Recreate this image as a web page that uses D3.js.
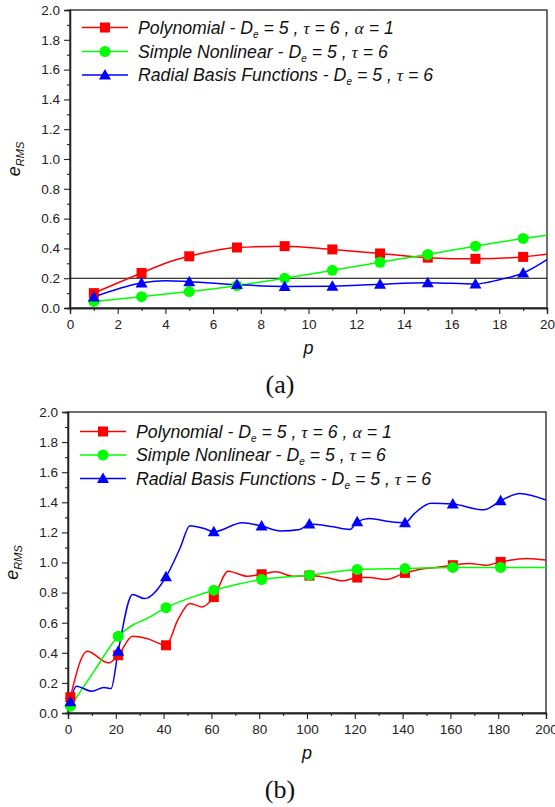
<!DOCTYPE html>
<html><head><meta charset="utf-8">
<script src="https://cdn.jsdelivr.net/npm/d3@7"></script>
<style>
body{margin:0;background:#fff;}
svg{display:block;}
</style></head>
<body>
<svg id="chart" width="555" height="807"></svg>
<script>
// ---------- DATA ----------
// Panel (a): p = 1..20
const aMarkerP = [1,3,5,7,9,11,13,15,17,19];
const aPolyP   = [1,3,4,5,7,9,11,13,15,17,19,20];
const aPolyV   = [0.10,0.235,0.30,0.347,0.406,0.415,0.393,0.366,0.338,0.330,0.343,0.360];
const aNonlP   = [1,3,5,7,9,11,13,15,17,19,20];
const aNonlV   = [0.044,0.076,0.110,0.150,0.200,0.253,0.307,0.359,0.415,0.467,0.489];
const aRbfP    = [1,3,4,5,7,9,11,13,15,17,18,19,20];
const aRbfV    = [0.074,0.168,0.183,0.177,0.157,0.145,0.146,0.160,0.170,0.161,0.19,0.235,0.325];
const aRefLine = 0.2;

// Panel (b): p = 1..200
const bMarkerP = [1,21,41,61,81,101,121,141,161,181];
const bPolyP = [1,8,17,21,27,33,41,46,51,56,61,67,75,81,87,94,101,108,115,121,126,133,141,147,154,161,168,175,181,192,200];
const bPolyV = [0.105,0.41,0.333,0.384,0.51,0.495,0.45,0.62,0.728,0.705,0.77,0.942,0.909,0.922,0.938,0.909,0.913,0.90,0.878,0.90,0.90,0.887,0.931,0.954,0.967,0.982,0.993,0.982,1.004,1.027,1.016];
const bNonlP = [1,11,21,27,33,41,51,61,71,81,91,101,111,121,141,161,181,200];
const bNonlV = [0.045,0.28,0.51,0.583,0.628,0.70,0.765,0.816,0.856,0.887,0.903,0.916,0.937,0.954,0.960,0.967,0.967,0.967];
const bRbfP = [1,3.5,10,15,18,21,27,32,41,47,51,57,61,73,81,89,97,101,111,118,121,126,135,141,145,152,161,174,181,189,200];
const bRbfV = [0.075,0.178,0.144,0.169,0.162,0.41,0.788,0.76,0.905,1.10,1.245,1.226,1.204,1.264,1.242,1.21,1.22,1.255,1.237,1.22,1.27,1.293,1.27,1.264,1.326,1.393,1.388,1.35,1.41,1.459,1.415];

const yTickVals = [0,0.2,0.4,0.6,0.8,1.0,1.2,1.4,1.6,1.8,2.0];
const aXTicks = [0,2,4,6,8,10,12,14,16,18,20];
const bXTicks = [0,20,40,60,80,100,120,140,160,180,200];

const seriesNames = ["Polynomial", "Simple Nonlinear", "Radial Basis Functions"];
const seriesColors = ["#ff0000", "#00ff00", "#0000ff"];
const seriesShapes = ["square", "circle", "triangle"];

// ---------- DRAW ----------
const svg = d3.select("#chart");

function legendText(g, i) {
  const t = g.append("text").attr("font-family","Liberation Sans, Arial, sans-serif")
    .attr("font-style","italic").attr("font-size",17.7).attr("fill","#111");
  t.append("tspan").text(seriesNames[i] + " - D");
  t.append("tspan").attr("font-size",10).attr("dy",4).text("e");
  t.append("tspan").attr("dy",-4).text(" = 5 , ");
  t.append("tspan").attr("font-family","Liberation Serif, Times New Roman, serif").text("τ");
  t.append("tspan").text(" = 6");
  if (i === 0) {
    t.append("tspan").text(" , ");
    t.append("tspan").attr("font-family","Liberation Serif, Times New Roman, serif").text("α");
    t.append("tspan").text(" = 1");
  }
  return t;
}

function marker(g, shape, color, x, y) {
  if (shape === "square") {
    g.append("rect").attr("x", x-5).attr("y", y-5).attr("width",10).attr("height",10).attr("fill",color);
  } else if (shape === "circle") {
    g.append("circle").attr("cx", x).attr("cy", y).attr("r",5.5).attr("fill",color);
  } else {
    const s = 6;
    g.append("path").attr("d", `M${x},${y-s}L${x+s},${y+s*0.75}L${x-s},${y+s*0.75}Z`).attr("fill",color);
  }
}

function panel(cfg) {
  const g = svg.append("g");
  const x = d3.scaleLinear().domain(cfg.xDomain).range([cfg.left, cfg.right]);
  const y = d3.scaleLinear().domain([0,2]).range([cfg.bottom, cfg.top]);

  // frame
  g.append("rect").attr("x",cfg.left).attr("y",cfg.top)
    .attr("width",cfg.right-cfg.left).attr("height",cfg.bottom-cfg.top)
    .attr("fill","none").attr("stroke","#222").attr("stroke-width",1.3);

  // y axis
  const yAx = d3.axisLeft(y).tickValues(yTickVals).tickFormat(d3.format(".1f")).tickSize(6).tickPadding(4);
  g.append("g").attr("transform",`translate(${cfg.left},0)`).call(yAx);
  const yMinor = d3.axisLeft(y).tickValues(d3.range(0.1,2.0,0.2)).tickFormat("").tickSize(3);
  g.append("g").attr("transform",`translate(${cfg.left},0)`).call(yMinor);

  // x axis
  const xAx = d3.axisBottom(x).tickValues(cfg.xTicks).tickFormat(d3.format("d")).tickSize(6).tickPadding(5);
  g.append("g").attr("transform",`translate(0,${cfg.bottom})`).call(xAx);
  const xMinor = d3.axisBottom(x).tickValues(cfg.xMinor).tickFormat("").tickSize(3);
  g.append("g").attr("transform",`translate(0,${cfg.bottom})`).call(xMinor);

  g.selectAll(".domain").attr("stroke","#222").attr("stroke-width",1.3);
  g.selectAll(".tick line").attr("stroke","#222").attr("stroke-width",1.1);
  g.selectAll(".tick text").attr("font-family","Liberation Sans, Arial, sans-serif")
    .attr("font-size",13.5).attr("fill","#222");

  // reference line
  if (cfg.ref !== undefined) {
    g.append("line").attr("x1",cfg.left).attr("x2",cfg.right)
      .attr("y1",y(cfg.ref)).attr("y2",y(cfg.ref)).attr("stroke","#000").attr("stroke-width",1.1);
  }

  const clipId = "clip" + cfg.name;
  svg.append("clipPath").attr("id",clipId).append("rect")
    .attr("x",cfg.left).attr("y",cfg.top).attr("width",cfg.right-cfg.left).attr("height",cfg.bottom-cfg.top);

  const line = d3.line().x(d=>x(d[0])).y(d=>y(d[1])).curve(d3.curveMonotoneX);
  cfg.series.forEach((s,i) => {
    const pts = s.p.map((p,k)=>[p, s.v[k]]);
    g.append("path").attr("d", line(pts)).attr("fill","none")
      .attr("stroke", seriesColors[i]).attr("stroke-width",1.5).attr("clip-path",`url(#${clipId})`);
  });
  // markers: values taken on the series at marker positions
  cfg.series.forEach((s,i) => {
    const mg = g.append("g");
    cfg.markerP.forEach(mp => {
      const k = s.p.indexOf(mp);
      if (k >= 0) marker(mg, seriesShapes[i], seriesColors[i], x(mp), y(s.v[k]));
    });
  });

  // legend
  cfg.legendY.forEach((ly,i) => {
    const lg = g.append("g");
    lg.append("line").attr("x1",cfg.legendX).attr("x2",cfg.legendX+46).attr("y1",ly).attr("y2",ly)
      .attr("stroke",seriesColors[i]).attr("stroke-width",1.5);
    marker(lg, seriesShapes[i], seriesColors[i], cfg.legendX+23, ly);
    legendText(lg, i).attr("x", cfg.legendX+56).attr("y", ly+6);
  });

  // axis titles
  g.append("text").attr("x", (cfg.left+cfg.right)/2).attr("y", cfg.bottom+46)
    .attr("text-anchor","middle").attr("font-family","Liberation Sans, Arial, sans-serif")
    .attr("font-style","italic").attr("font-size",18).attr("fill","#111").text("p");
  const yl = g.append("text").attr("transform",`translate(${cfg.left-50},${(cfg.top+cfg.bottom)/2}) rotate(-90)`)
    .attr("text-anchor","middle").attr("font-family","Liberation Sans, Arial, sans-serif")
    .attr("font-style","italic").attr("font-size",18).attr("fill","#111");
  yl.append("tspan").text("e");
  yl.append("tspan").attr("font-size",11).attr("dy",4).text("RMS");

  g.append("text").attr("x", 280).attr("y", cfg.bottom+85)
    .attr("text-anchor","middle").attr("font-family","Liberation Serif, Times New Roman, serif")
    .attr("font-size",26).attr("fill","#111").text(cfg.label);
}

panel({
  name:"a", xDomain:[0,20], left:70, right:547, top:10, bottom:308,
  xTicks:aXTicks, xMinor:d3.range(1,20,2), ref:aRefLine, markerP:aMarkerP,
  series:[{p:aPolyP,v:aPolyV},{p:aNonlP,v:aNonlV},{p:aRbfP,v:aRbfV}],
  legendX:82, legendY:[27.5,51.5,75], label:"(a)"
});
panel({
  name:"b", xDomain:[0,200], left:68, right:546, top:412, bottom:713,
  xTicks:bXTicks, xMinor:d3.range(10,200,20), markerP:bMarkerP,
  series:[{p:bPolyP,v:bPolyV},{p:bNonlP,v:bNonlV},{p:bRbfP,v:bRbfV}],
  legendX:80, legendY:[431.5,455,478.5], label:"(b)"
});
</script>
</body></html>
